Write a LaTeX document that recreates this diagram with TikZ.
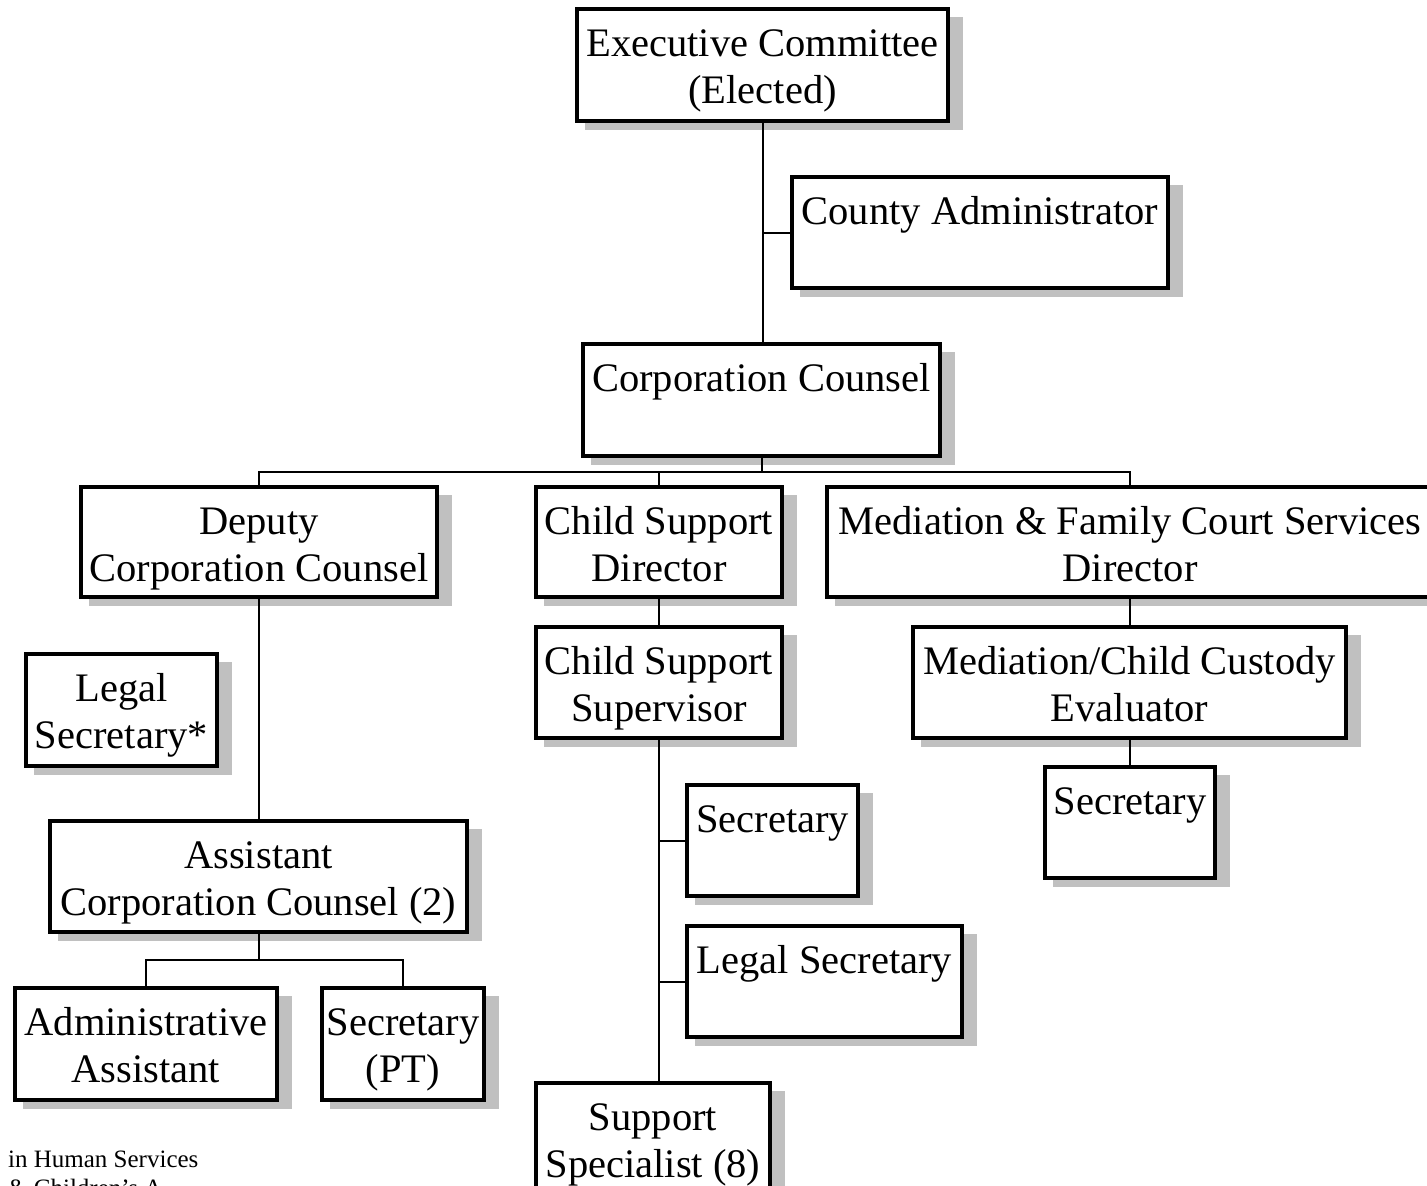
\documentclass[tikz,border=0pt]{standalone}
\usepackage{fontspec}
\setmainfont{Liberation Serif}
\pgfdeclarelayer{paperlayer}
\pgfdeclarelayer{shadowlayer}
\pgfdeclarelayer{linelayer}
\pgfsetlayers{paperlayer,shadowlayer,linelayer,main}
\definecolor{shadowc}{RGB}{192,192,192}
\tikzset{
  orgbox/.style={draw=black, line width=4.5pt, fill=white, inner sep=0pt, outer sep=0pt, rectangle},
  boxtext/.style={inner sep=0pt, anchor=north, align=center, font=\fontsize{40.5}{47}\selectfont},
  conn/.style={line width=2pt},
  foottext/.style={inner sep=0pt, anchor=north west, align=left, font=\fontsize{25}{29}\selectfont},
}
% name, x1, y1, x2, y2, text
\newcommand\mkbox[6]{%
  \node[orgbox, minimum width={#4pt-#2pt}, minimum height={#5pt-#3pt}] (#1) at ({(#2+#4)/2},{(#3+#5)/2}) {};
  \begin{pgfonlayer}{shadowlayer}
    \fill[shadowc] ([xshift=8pt,yshift=-8pt]#1.north west) rectangle ([xshift=15pt,yshift=-9pt]#1.south east);
  \end{pgfonlayer}
  \node[boxtext] (#1-t) at ([yshift=-14pt]#1.north) {\strut #6};
}
\begin{document}
\begin{tikzpicture}[x=1pt,y=-1pt]
\useasboundingbox (0,0) rectangle (1427,1186);
\begin{pgfonlayer}{paperlayer}
  \fill[white] (0,0) rectangle (1427,1186);
\end{pgfonlayer}

\mkbox{exec}{577}{9}{948}{121}{Executive Committee\\(Elected)}
\mkbox{county}{792}{177}{1168}{288}{County Administrator}
\mkbox{corp}{583}{344}{940}{456}{Corporation Counsel}
\mkbox{deputy}{81}{487}{437}{597}{Deputy\\Corporation Counsel}
\mkbox{csdir}{536}{487}{782}{597}{Child Support\\Director}
\mkbox{med}{827}{487}{1433}{597}{Mediation \& Family Court Services\\Director}
\mkbox{legsec}{26}{654}{217}{766}{Legal\\Secretary*}
\mkbox{cssup}{536}{627}{782}{738}{Child Support\\Supervisor}
\mkbox{eval}{913}{627}{1346}{738}{Mediation/Child Custody\\Evaluator}
\mkbox{secR}{1045}{767}{1215}{878}{Secretary}
\mkbox{secM}{687}{785}{858}{896}{Secretary}
\mkbox{legM}{687}{926}{962}{1037}{Legal Secretary}
\mkbox{asst}{50}{821}{467}{932}{Assistant\\Corporation Counsel (2)}
\mkbox{admin}{15}{988}{277}{1100}{Administrative\\Assistant}
\mkbox{secpt}{322}{988}{484}{1100}{Secretary\\(PT)}
\mkbox{spec}{536}{1083}{770}{1195}{Support\\Specialist (8)}

\node[foottext] (foot) at (8,1146.7) {\strut in Human Services\\\& Children's A};

\begin{pgfonlayer}{linelayer}
  \coordinate (bus) at (762,472);
  \coordinate (bus2) at (259,960);
  \draw[conn] (exec.south) -- (exec.south |- corp.north);
  \draw[conn] (county.west) -- (county.west -| exec.south);
  \draw[conn] (corp.south -| bus) -- (bus);
  \draw[conn] (deputy.north) |- (bus) -| (med.north);
  \draw[conn] (csdir.north) -- (csdir.north |- bus);
  \draw[conn] (csdir.south) -- (csdir.south |- cssup.north);
  \draw[conn] (cssup.south) -- (cssup.south |- spec.north);
  \draw[conn] (secM.west) -- (secM.west -| cssup.south);
  \draw[conn] (legM.west) -- (legM.west -| cssup.south);
  \draw[conn] (med.south) -- (med.south |- eval.north);
  \draw[conn] (med.south |- eval.south) -- (med.south |- secR.north);
  \draw[conn] (deputy.south) -- (deputy.south |- asst.north);
  \draw[conn] (asst.south -| bus2) -- (bus2);
  \draw[conn] (admin.north) |- (bus2) -| (secpt.north);
\end{pgfonlayer}
\end{tikzpicture}
\end{document}
